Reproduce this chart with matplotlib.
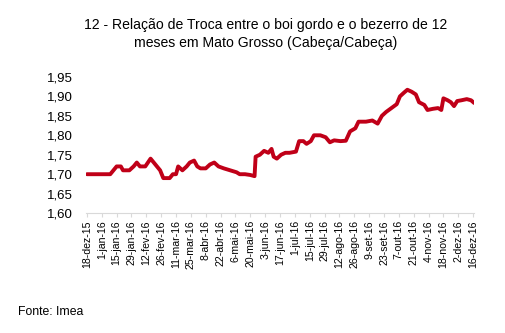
"""Relação de troca boi gordo / bezerro de 12 meses em Mato Grosso (Imea)."""
import matplotlib
matplotlib.use("Agg")
import matplotlib.pyplot as plt
import numpy as np
import pandas as pd

# values (cabeça/cabeça)
dates = [
    "2015-12-18", "2016-01-09", "2016-01-12", "2016-01-15", "2016-01-19", "2016-01-21",
    "2016-01-27", "2016-01-31", "2016-02-03", "2016-02-06", "2016-02-11", "2016-02-16",
    "2016-02-19", "2016-02-22", "2016-02-25", "2016-02-28", "2016-03-05", "2016-03-08",
    "2016-03-11", "2016-03-13", "2016-03-17", "2016-03-21", "2016-03-24", "2016-03-28",
    "2016-03-31", "2016-04-03", "2016-04-08", "2016-04-12", "2016-04-16", "2016-04-20",
    "2016-04-25", "2016-05-01", "2016-05-07", "2016-05-10", "2016-05-15", "2016-05-20",
    "2016-05-24", "2016-05-25", "2016-05-29", "2016-06-02", "2016-06-06", "2016-06-09",
    "2016-06-11", "2016-06-14", "2016-06-18", "2016-06-22", "2016-06-26", "2016-07-02",
    "2016-07-05", "2016-07-09", "2016-07-12", "2016-07-16", "2016-07-19", "2016-07-25",
    "2016-07-30", "2016-08-03", "2016-08-07", "2016-08-13", "2016-08-18", "2016-08-22",
    "2016-08-27", "2016-08-30", "2016-09-06", "2016-09-12", "2016-09-17", "2016-09-21",
    "2016-09-25", "2016-09-30", "2016-10-05", "2016-10-08", "2016-10-12", "2016-10-15",
    "2016-10-19", "2016-10-23", "2016-10-26", "2016-10-31", "2016-11-03", "2016-11-08",
    "2016-11-13", "2016-11-16", "2016-11-18", "2016-11-22", "2016-11-25", "2016-11-28",
    "2016-12-01", "2016-12-05", "2016-12-10", "2016-12-14", "2016-12-17",
]
relacao = [
    1.700, 1.700, 1.710, 1.720, 1.720, 1.710,
    1.710, 1.720, 1.730, 1.720, 1.720, 1.740,
    1.730, 1.720, 1.710, 1.690, 1.690, 1.700,
    1.700, 1.720, 1.710, 1.720, 1.730, 1.735,
    1.720, 1.715, 1.715, 1.725, 1.730, 1.720,
    1.715, 1.710, 1.705, 1.700, 1.700, 1.698,
    1.695, 1.745, 1.750, 1.760, 1.755, 1.765,
    1.745, 1.740, 1.750, 1.755, 1.755, 1.758,
    1.785, 1.785, 1.778, 1.785, 1.800, 1.800,
    1.795, 1.782, 1.787, 1.785, 1.786, 1.810,
    1.818, 1.835, 1.835, 1.838, 1.830, 1.850,
    1.860, 1.870, 1.880, 1.900, 1.910, 1.917,
    1.912, 1.905, 1.885, 1.878, 1.865, 1.868,
    1.870, 1.865, 1.895, 1.890, 1.885, 1.875,
    1.888, 1.890, 1.893, 1.890, 1.883,
]

tick_dates = pd.date_range("2015-12-18", "2016-12-16", freq="14D")
tick_labels = [
    "18-dez-15", "1-jan-16", "15-jan-16", "29-jan-16", "12-fev-16", "26-fev-16",
    "11-mar-16", "25-mar-16", "8-abr-16", "22-abr-16", "6-mai-16", "20-mai-16",
    "3-jun-16", "17-jun-16", "1-jul-16", "15-jul-16", "29-jul-16", "12-ago-16",
    "26-ago-16", "9-set-16", "23-set-16", "7-out-16", "21-out-16", "4-nov-16",
    "18-nov-16", "2-dez-16", "16-dez-16",
][:len(tick_dates)]
y_ticks = [1.60, 1.65, 1.70, 1.75, 1.80, 1.85, 1.90, 1.95]

plt.rcParams["font.family"] = ["Liberation Sans", "DejaVu Sans"]

fig = plt.figure(figsize=(5.05, 3.33), dpi=100)
ax = fig.add_axes([0.170, 0.360, 0.769, 0.409])

x = pd.to_datetime(dates)
ax.plot(x, relacao, color="#C00018", linewidth=2.8, solid_joinstyle="round",
        solid_capstyle="round")

ax.set_ylim(1.60, 1.95)
ax.set_yticks(y_ticks)
ax.set_yticklabels([f"{v:.2f}".replace(".", ",") for v in y_ticks], fontsize=9.5)
ax.set_xlim(pd.Timestamp("2015-12-17"), pd.Timestamp("2016-12-17"))
ax.set_xticks(tick_dates)
ax.set_xticklabels(tick_labels, rotation=90, fontsize=7.6)

for side in ("top", "right", "left"):
    ax.spines[side].set_visible(False)
ax.spines["bottom"].set_color("#D9D9D9")
ax.tick_params(axis="y", length=0, pad=9.5)
ax.tick_params(axis="x", length=3, color="#D9D9D9", pad=2)

fig.text(0.525, 0.898, "12 - Relação de Troca entre o boi gordo e o bezerro de 12\n"
         "meses em Mato Grosso (Cabeça/Cabeça)", ha="center", va="center",
         fontsize=10.1, linespacing=1.35)
fig.text(0.036, 0.063, "Fonte: Imea", fontsize=8.8, va="center")

fig.savefig("out.png")
